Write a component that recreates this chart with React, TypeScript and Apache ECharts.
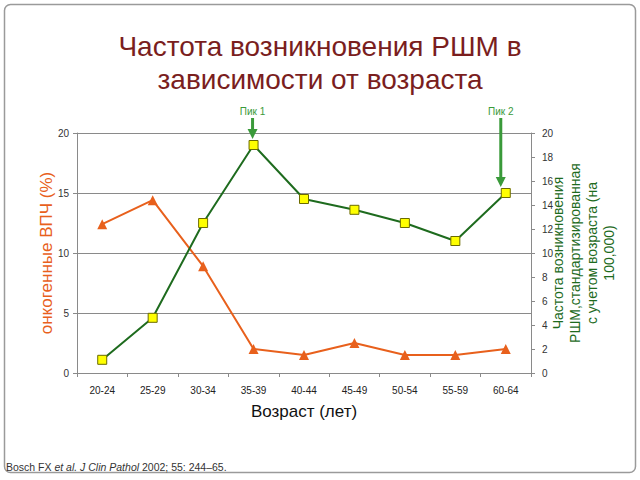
import React, { useEffect, useRef } from "react";
import * as echarts from "echarts";

const categories = ["20-24", "25-29", "30-34", "35-39", "40-44", "45-49", "50-54", "55-59", "60-64"];
const hpvPrevalence = [12.4, 14.4, 8.9, 2.0, 1.5, 2.5, 1.5, 1.5, 2.0];
const cancerIncidence = [1.1, 4.6, 12.5, 19.0, 14.5, 13.6, 12.5, 11.0, 15.0];
const leftTicks = { min: 0, max: 20, interval: 5 };
const rightTicks = { min: 0, max: 20, interval: 2 };
const peaks = [
  { label: "Пик 1", category: "35-39", value: 19.0 },
  { label: "Пик 2", category: "60-64", value: 15.0 },
];

const FONT = "'Liberation Sans', Arial, sans-serif";
const ORANGE = "#E8601C";
const DARK_GREEN = "#1E6B1E";
const ARROW_GREEN = "#3A9A3A";
const AXIS_GRAY = "#8a8a8a";

export default function App() {
  const ref = useRef<HTMLDivElement>(null);

  useEffect(() => {
    if (!ref.current) return;
    const chart = echarts.init(ref.current, undefined, { renderer: "svg" });
    const option: any = {
      animation: false,
      backgroundColor: "#ffffff",
      textStyle: { fontFamily: FONT },
      title: {
        text: "Частота возникновения РШМ в\nзависимости от возраста",
        left: "center",
        top: 25,
        textStyle: {
          fontFamily: FONT,
          fontSize: 28,
          fontWeight: "normal",
          color: "#7A1E1E",
          lineHeight: 33,
        },
      },
      grid: { left: 77, right: 109, top: 133, bottom: 107 },
      xAxis: {
        type: "category",
        data: categories,
        boundaryGap: true,
        axisLine: { lineStyle: { color: AXIS_GRAY, width: 1 } },
        axisTick: { show: true, length: 4, lineStyle: { color: AXIS_GRAY } },
        axisLabel: { fontSize: 10, color: "#222", margin: 12, fontFamily: FONT },
        name: "Возраст (лет)",
        nameLocation: "middle",
        nameGap: 30,
        nameTextStyle: { fontSize: 17, color: "#111", fontFamily: FONT },
      },
      yAxis: [
        {
          type: "value",
          min: leftTicks.min,
          max: leftTicks.max,
          interval: leftTicks.interval,
          position: "left",
          axisLine: { show: true, lineStyle: { color: AXIS_GRAY } },
          axisTick: { show: true, length: 4, lineStyle: { color: AXIS_GRAY } },
          splitLine: { show: true, lineStyle: { color: AXIS_GRAY, width: 1 } },
          axisLabel: { fontSize: 10, color: "#333", margin: 8, fontFamily: FONT },
          name: "онкогенные ВПЧ (%)",
          nameLocation: "middle",
          nameRotate: 90,
          nameGap: 22,
          nameMoveOverlap: false,
          nameTextStyle: { fontSize: 17, color: ORANGE, fontFamily: FONT },
        },
        {
          type: "value",
          min: rightTicks.min,
          max: rightTicks.max,
          interval: rightTicks.interval,
          position: "right",
          axisLine: { show: true, lineStyle: { color: AXIS_GRAY } },
          axisTick: { show: true, length: 4, lineStyle: { color: AXIS_GRAY } },
          splitLine: { show: false },
          axisLabel: { fontSize: 10, color: "#333", margin: 11, fontFamily: FONT },
          name: "Частота возникновения\nРШМ,стандартизированная\nс учетом возраста (на\n100,000)",
          nameLocation: "middle",
          nameRotate: 90,
          nameGap: 18,
          nameMoveOverlap: false,
          nameTextStyle: {
            fontSize: 14,
            color: DARK_GREEN,
            fontFamily: FONT,
            lineHeight: 17,
            align: "center",
          },
        },
      ],
      series: [
        {
          name: "ВПЧ",
          type: "line",
          yAxisIndex: 0,
          data: hpvPrevalence,
          symbol: "triangle",
          symbolSize: 10,
          lineStyle: { color: ORANGE, width: 2 },
          itemStyle: { color: ORANGE },
        },
        {
          name: "РШМ",
          type: "line",
          yAxisIndex: 1,
          data: cancerIncidence,
          symbol: "rect",
          symbolSize: 9,
          z: 3,
          lineStyle: { color: DARK_GREEN, width: 2 },
          itemStyle: { color: "#FFFF00", borderColor: "#6b6b00", borderWidth: 1 },
        },
      ],
    };
    chart.setOption(option);

    const elements: any[] = [];
    peaks.forEach((p, i) => {
      const pt = chart.convertToPixel({ xAxisIndex: 0, yAxisIndex: 1 }, [p.category, p.value]) as number[];
      const x = pt[0] - (i === 1 ? 5 : 1);
      const tipY = pt[1] - 6;
      const startY = 118;
      elements.push({
        type: "text",
        x,
        y: 111,
        style: {
          text: p.label,
          fill: ARROW_GREEN,
          fontSize: 10,
          fontFamily: FONT,
          align: "center",
          verticalAlign: "middle",
        },
      });
      elements.push({
        type: "line",
        shape: { x1: x, y1: startY, x2: x, y2: tipY - 8 },
        style: { stroke: ARROW_GREEN, lineWidth: 3 },
      });
      elements.push({
        type: "polygon",
        shape: { points: [[x - 5, tipY - 10], [x + 5, tipY - 10], [x, tipY]] },
        style: { fill: ARROW_GREEN },
      });
    });
    elements.push({
      type: "rect",
      shape: { x: 4.5, y: 4.5, width: 631, height: 468, r: 6 },
      style: { fill: "none", stroke: "#9a9a9a", lineWidth: 1.5 },
      silent: true,
    });
    elements.push({
      type: "text",
      x: 6,
      y: 467,
      style: {
        text: "{n|Bosch FX }{i|et al. J Clin Pathol }{n|2002; 55: 244–65.}",
        verticalAlign: "middle",
        rich: {
          n: { fontSize: 10.5, fill: "#333", fontFamily: FONT },
          i: { fontSize: 10.5, fill: "#333", fontFamily: FONT, fontStyle: "italic" },
        },
      },
    });
    chart.setOption({ graphic: elements });

    return () => chart.dispose();
  }, []);

  return (
    <div
      ref={ref}
      style={{ position: "fixed", left: 0, top: 0, width: 640, height: 480 }}
    />
  );
}
